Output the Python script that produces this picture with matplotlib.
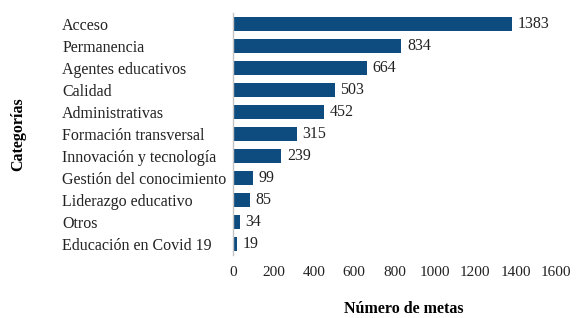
import matplotlib.pyplot as plt

categorias = ["Acceso", "Permanencia", "Agentes educativos", "Calidad",
              "Administrativas", "Formación transversal", "Innovación y tecnología",
              "Gestión del conocimiento", "Liderazgo educativo", "Otros",
              "Educación en Covid 19"]
metas = [1383, 834, 664, 503, 452, 315, 239, 99, 85, 34, 19]
xticks = [0, 200, 400, 600, 800, 1000, 1200, 1400, 1600]

plt.rcParams['font.family'] = ['Liberation Serif', 'DejaVu Serif']

fig = plt.figure(figsize=(5.81, 3.18), dpi=100)
ax = fig.add_axes([0.401, 0.198, 0.556, 0.761])

y = list(range(len(categorias)))
ax.barh(y, metas, height=0.6, color='#0e4c7f')
for yi, v in zip(y, metas):
    ax.annotate(str(v), (v, yi), xytext=(4, 0), textcoords='offset points',
                va='center', ha='left', fontsize=11.5, color='#222222')

ax.set_ylim(len(categorias) - 0.5, -0.5)
ax.set_xlim(0, 1600)
ax.set_xticks(xticks)
ax.set_yticks(y)
ax.set_yticklabels(categorias, ha='left')
ax.tick_params(axis='y', length=0, pad=123, labelsize=11.5, colors='#222222')
ax.tick_params(axis='x', length=0, pad=8, labelsize=11, colors='#222222')

for s in ['top', 'right', 'bottom']:
    ax.spines[s].set_visible(False)
ax.spines['left'].set_color('#c4c4c4')
ax.spines['left'].set_linewidth(1)

ax.set_xlabel('Número de metas', fontsize=11.5, fontweight='bold', labelpad=14)
ax.xaxis.set_label_coords(0.53, -0.19)
fig.text(0.031, 0.578, 'Categorías', rotation=90, ha='center', va='center',
         fontsize=11.5, fontweight='bold')

fig.savefig('out.png', dpi=100)
